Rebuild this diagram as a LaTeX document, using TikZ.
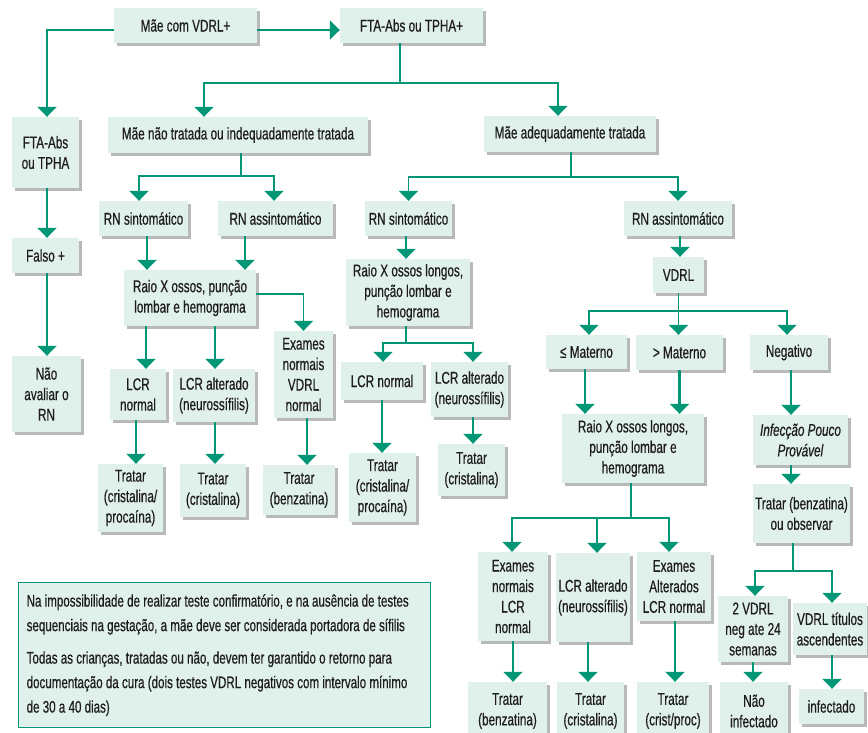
\documentclass[tikz,border=0pt]{standalone}
\usepackage{fontspec}
\setmainfont[FakeStretch=0.69,FakeBold=0.5]{Liberation Sans}
\usetikzlibrary{arrows.meta,calc,shadows}
\definecolor{gr}{RGB}{0,150,118}
\definecolor{bf}{RGB}{224,240,235}
\definecolor{tx}{RGB}{30,28,28}
\definecolor{sh}{RGB}{185,185,185}
\tikzset{
  box/.style={fill=bf, inner sep=0pt, align=center, text=tx,
    font=\fontsize{17}{20.5}\selectfont,
    drop shadow={shadow xshift=2.5pt, shadow yshift=-2.5pt, fill=sh, opacity=1}},
  note/.style={draw=gr, line width=1.3pt, fill=bf, inner xsep=8pt, inner ysep=0pt,
    text width=396pt, align=flush left, text=tx, font=\fontsize{16.8}{24.5}\selectfont},
  arr/.style={draw=gr, line width=2.5pt, -{Triangle[width=19pt,length=10pt]}},
  br/.style={draw=gr, line width=1.9pt},
  brarr/.style={draw=gr, line width=1.9pt, -{Triangle[width=19pt,length=10pt]}}
}
\newcommand{\bx}[6]{%
  \pgfmathsetmacro{\bxW}{#4-#2}\pgfmathsetmacro{\bxH}{#5-#3}%
  \pgfmathsetmacro{\bxX}{(#2+#4)/2}\pgfmathsetmacro{\bxY}{(#3+#5)/2}%
  \node[box, minimum width=\bxW pt, minimum height=\bxH pt] (#1) at (\bxX,\bxY) {#6};}
\newcommand{\varr}[3]{\draw[arr] ($(#1.south)+(#3,0)$) -- ($(#1.south |- #2.north)+(#3,0)$);}
\begin{document}
\begin{tikzpicture}[x=1pt,y=-1pt]
\useasboundingbox (0,0) rectangle (868,732);
\clip (0,0) rectangle (868,732);
% boxes
\bx{mvd}{114}{8}{257}{43}{Mãe com VDRL+}
\bx{ftap}{340}{8}{483}{43}{FTA-Abs ou TPHA+}
\bx{fta}{12}{117}{79}{188}{FTA-Abs\\ou TPHA}
\bx{fal}{12}{238}{79}{273}{Falso +}
\bx{nao}{12}{356}{81}{432}{Não\\avaliar o\\RN}
\bx{mnt}{108}{117}{368}{153}{Mãe não tratada ou indequadamente tratada}
\bx{mat}{484}{116}{656}{152}{Mãe adequadamente tratada}
\bx{rns1}{99}{201}{188}{236}{RN sintomático}
\bx{rna1}{218}{201}{333}{236}{RN assintomático}
\bx{rns2}{365}{201}{452}{236}{RN sintomático}
\bx{rna2}{624}{201}{732}{236}{RN assintomático}
\bx{rx1}{124}{270}{256}{326}{Raio X ossos, punção\\lombar e hemograma}
\bx{ex1}{274}{331}{333}{418}{Exames\\normais\\VDRL\\normal}
\bx{lcrn1}{110}{369}{166}{420}{LCR\\normal}
\bx{lcra1}{173}{369}{255}{422}{LCR alterado\\(neurossífilis)}
\bx{t1}{98}{464}{163}{532}{Tratar\\(cristalina/\\procaína)}
\bx{t2}{180}{464}{246}{517}{Tratar\\(cristalina)}
\bx{t3}{263}{465}{335}{515}{Tratar\\(benzatina)}
\bx{rx2}{346}{259}{470}{326}{Raio X ossos longos,\\punção lombar e\\hemograma}
\bx{lcrn2}{341}{362}{423}{400}{LCR normal}
\bx{lcra2}{431}{362}{508}{417}{LCR alterado\\(neurossífilis)}
\bx{t4}{349}{453}{416}{522}{Tratar\\(cristalina/\\procaína)}
\bx{t5}{438}{444}{505}{496}{Tratar\\(cristalina)}
\bx{vdrl}{653}{257}{704}{293}{VDRL}
\bx{lm}{546}{335}{627}{369}{≤ Materno}
\bx{gm}{636}{335}{723}{370}{> Materno}
\bx{neg}{750}{335}{828}{370}{Negativo}
\bx{rx3}{562}{414}{704}{483}{Raio X ossos longos,\\punção lombar e\\hemograma}
\bx{inf}{753}{415}{848}{465}{\textit{Infecção Pouco}\\\textit{Provável}}
\bx{tobs}{753}{484}{850}{543}{Tratar (benzatina)\\ou observar}
\bx{exn}{478}{552}{548}{641}{Exames\\normais\\LCR\\normal}
\bx{lcra3}{556}{553}{630}{642}{LCR alterado\\(neurossífilis)}
\bx{exa}{637}{552}{711}{621}{Exames\\Alterados\\LCR normal}
\bx{v2}{718}{596}{788}{662}{2 VDRL\\neg ate 24\\semanas}
\bx{vt}{793}{603}{867}{655}{VDRL títulos\\ascendentes}
\bx{tb1}{468}{682}{547}{740}{Tratar\\(benzatina)}
\bx{tc3}{557}{682}{624}{740}{Tratar\\(cristalina)}
\bx{tcp}{637}{682}{709}{740}{Tratar\\(crist/proc)}
\bx{ni}{720}{682}{788}{740}{Não\\infectado}
\bx{inf2}{799}{689}{864}{724}{infectado}
\node[note, anchor=north west, minimum width=412pt, minimum height=145pt] (nt) at (18,582)
 {\mbox{Na impossibilidade de realizar teste confirmatório, e na ausência de testes}\\
  \mbox{sequenciais na gestação, a mãe deve ser considerada portadora de sífilis}\\[8pt]
  \mbox{Todas as crianças, tratadas ou não, devem ter garantido o retorno para}\\
  \mbox{documentação da cura (dois testes VDRL negativos com intervalo mínimo}\\
  \mbox{de 30 a 40 dias)}};
% connectors
\draw[arr] ($(mvd.west)+(0,4.5)$) -| ($(fta.north)+(1.5,0)$);
\draw[arr] ($(mvd.east)+(0,4.5)$) -- ($(ftap.west)+(0,4.5)$);
\draw[br] ($(ftap.south)+(-11.5,0)$) -- ++(0,40) coordinate (j1);
\draw[brarr] (j1) -| ($(mnt.north)+(-34,0)$);
\draw[brarr] (j1) -| ($(mat.north)+(-12,0)$);
\varr{fta}{fal}{1.5}
\varr{fal}{nao}{1.5}
\draw[br] ($(mnt.south)+(3,0)$) -- ++(0,23) coordinate (j2);
\draw[brarr] (j2) -| ($(rns1.north)+(-4.5,0)$);
\draw[brarr] (j2) -| ($(rna1.north)+(-1.5,0)$);
\draw[br] ($(mat.south)+(1,0)$) -- ++(0,25) coordinate (j3);
\draw[brarr] (j3) -| (rns2.north);
\draw[brarr] (j3) -| (rna2.north);
\varr{rns1}{rx1}{3.5}
\varr{rna1}{rx1}{-30.5}
\draw[brarr] ($(rx1.east)+(0,-4)$) -| (ex1.north);
\varr{rx1}{lcrn1}{-44}
\varr{rx1}{lcra1}{25}
\varr{lcrn1}{t1}{-2}
\varr{lcra1}{t2}{1}
\varr{ex1}{t3}{3.5}
\varr{rns2}{rx2}{-2.5}
\draw[br] ($(rx2.south)+(-2,0)$) -- ++(0,17) coordinate (j4);
\draw[brarr] (j4) -| ($(lcrn2.north)+(1,0)$);
\draw[brarr] (j4) -| ($(lcra2.north)+(3.5,0)$);
\varr{lcrn2}{t4}{0}
\varr{lcra2}{t5}{3.5}
\varr{rna2}{vdrl}{2}
\draw[br] (vdrl.south) -- ++(0,18) coordinate (j5);
\draw[brarr] (j5) -| ($(lm.north)+(2.5,0)$);
\draw[brarr] (j5) -- (j5 |- gm.north);
\draw[brarr] (j5) -| ($(neg.north)+(-2,0)$);
\varr{lm}{rx3}{-1.5}
\varr{gm}{rx3}{0}
\varr{neg}{inf}{2}
\varr{inf}{tobs}{-9.5}
\draw[br] ($(tobs.south)+(-8.5,0)$) -- ++(0,28) coordinate (j6);
\draw[brarr] (j6) -| ($(v2.north)+(2,0)$);
\draw[brarr] (j6) -| ($(vt.north)+(2,0)$);
\draw[br] ($(rx3.south)+(-2,0)$) -- ++(0,35) coordinate (j7);
\draw[brarr] (j7) -| ($(exn.north)+(-1,0)$);
\draw[brarr] (j7) -| ($(lcra3.north)+(4,0)$);
\draw[brarr] (j7) -| ($(exa.north)+(-5,0)$);
\varr{exn}{tb1}{0}
\varr{lcra3}{tc3}{-5}
\varr{exa}{tcp}{1}
\varr{v2}{ni}{0}
\varr{vt}{inf2}{2}
\end{tikzpicture}
\end{document}
